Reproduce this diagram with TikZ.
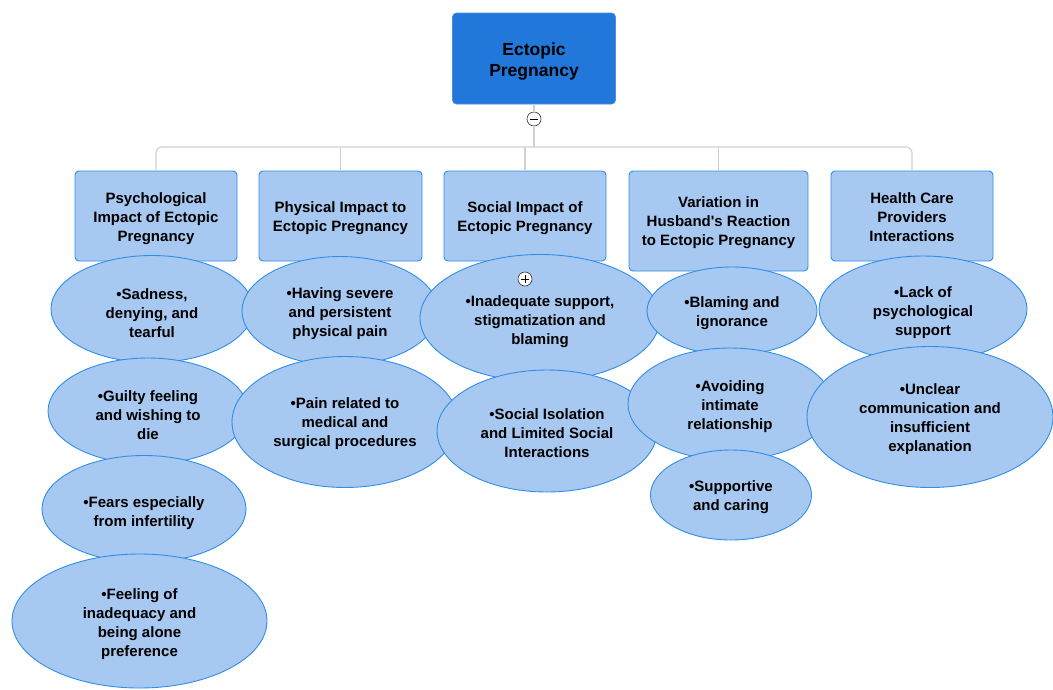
\documentclass[tikz,border=0pt]{standalone}
\usepackage{fontspec}
\setmainfont{Liberation Sans}
\newfontfamily\plainsans{Liberation Sans}
\usetikzlibrary{shapes.geometric}
\definecolor{rootblue}{RGB}{33,120,218}
\definecolor{rootedge}{RGB}{70,145,225}
\definecolor{lightblue}{RGB}{167,200,240}
\definecolor{edgeblue}{RGB}{48,142,232}
\definecolor{linegrey}{RGB}{208,208,208}
\tikzset{
  rootbox/.style={rectangle, rounded corners=4pt, fill=rootblue, draw=rootedge, line width=0.8pt, inner sep=0pt},
  topicbox/.style={rectangle, rounded corners=4pt, fill=lightblue, draw=edgeblue, line width=0.9pt, inner sep=0pt},
  idea/.style={ellipse, fill=lightblue, draw=edgeblue, line width=0.9pt, inner sep=0pt},
  roottext/.style={align=center, font=\fontsize{17.5}{21}\selectfont\bfseries, inner sep=0pt},
  words/.style={align=center, font=\fontsize{15}{19}\selectfont\bfseries, inner sep=0pt},
  toggle/.style={circle, fill=white, draw=black!80, line width=0.6pt, minimum size=14pt, inner sep=0pt},
  link/.style={draw=linegrey, line width=1.1pt}
}
\begin{document}
\begin{tikzpicture}[x=1pt,y=-1pt]
\useasboundingbox (0,0) rectangle (1053,689);
% root
\node[rootbox, minimum width=163pt, minimum height=91pt] (root) at (534,58.5) {};
\node[roottext] (roott) at ([yshift=-3pt]root.center) {Ectopic\\Pregnancy};
\node[toggle] (minus) at (534,119) {};
\draw[line width=0.8pt] ([xshift=-4pt]minus.center) -- ([xshift=4pt]minus.center);
\coordinate (hub) at (534,147);
% topic boxes
\node[topicbox, minimum width=162pt, minimum height=90pt] (b1) at (156,216) {};
\node[words] (b1t) at ([yshift=-3pt]b1.center) {Psychological\\Impact of Ectopic\\Pregnancy};
\node[topicbox, minimum width=163pt, minimum height=90pt] (b2) at (340.5,216) {};
\node[words] (b2t) at ([yshift=-2pt]b2.center) {Physical Impact to\\Ectopic Pregnancy};
\node[topicbox, minimum width=162pt, minimum height=90pt] (b3) at (525,216) {};
\node[words] (b3t) at ([yshift=-2pt]b3.center) {Social Impact of\\Ectopic Pregnancy};
\node[topicbox, minimum width=179pt, minimum height=100pt] (b4) at (718.5,221) {};
\node[words] (b4t) at ([yshift=-2pt]b4.center) {Variation in\\{\plainsans Husband's} Reaction\\to Ectopic Pregnancy};
\node[topicbox, minimum width=162pt, minimum height=90pt] (b5) at (912,216) {};
\node[words] (b5t) at ([yshift=-1pt]b5.center) {Health Care\\Providers\\Interactions};
% connectors
\draw[link] (root.south) -- (minus.north);
\draw[link] (minus.south) -- (hub);
\draw[link, rounded corners=6pt] (b1.north) |- (hub) -| (b5.north);
\draw[link] (b2.north) -- (b2.north |- hub);
\draw[link] (b3.north) -- (b3.north |- hub);
\draw[link] (b4.north) -- (b4.north |- hub);
% row 1 ideas
\node[idea, minimum width=202pt, minimum height=107pt] (s1) at (152,309) {};
\node[words] (s1t) at ([yshift=-4pt]s1.center) {•Sadness,\\denying, and\\tearful};
\node[idea, minimum width=196pt, minimum height=109pt] (p1) at (340,311) {};
\node[words] (p1t) at ([yshift=-3pt]p1.center) {•Having severe\\and persistent\\physical pain};
\node[idea, minimum width=240pt, minimum height=127pt] (o1) at (540,318) {};
\node[words] (o1t) at ([yshift=-4pt]o1.center) {•Inadequate support,\\stigmatization and\\blaming};
\node[toggle] (plus) at (525,279) {};
\draw[line width=0.8pt] ([xshift=-4pt]plus.center) -- ([xshift=4pt]plus.center);
\draw[line width=0.8pt] ([yshift=-4pt]plus.center) -- ([yshift=4pt]plus.center);
\node[idea, minimum width=170pt, minimum height=88pt] (h1) at (732,311) {};
\node[words] (h1t) at ([yshift=-2pt]h1.center) {•Blaming and\\ignorance};
\node[idea, minimum width=208pt, minimum height=106pt] (c1) at (923,309) {};
\node[words] (c1t) at ([yshift=-4pt]c1.center) {•Lack of\\psychological\\support};
% row 2 ideas
\node[idea, minimum width=200pt, minimum height=106pt] (s2) at (148,411) {};
\node[words] (s2t) at ([yshift=-4pt]s2.center) {•Guilty feeling\\and wishing to\\die};
\node[idea, minimum width=226pt, minimum height=131pt] (p2) at (345,422) {};
\node[words] (p2t) at ([yshift=-2pt]p2.center) {•Pain related to\\medical and\\surgical procedures};
\node[idea, minimum width=220pt, minimum height=122pt] (o2) at (547,431) {};
\node[words] (o2t) at ([yshift=-2pt]o2.center) {•Social Isolation\\and Limited Social\\Interactions};
\node[idea, minimum width=204pt, minimum height=112pt] (h2) at (730,404) {};
\node[words] (h2t) at ([yshift=-3pt]h2.center) {•Avoiding\\intimate\\relationship};
\node[idea, minimum width=246pt, minimum height=141pt] (c2) at (930,417) {};
\node[words] (c2t) at ([yshift=-2pt]c2.center) {•Unclear\\communication and\\insufficient\\explanation};
% row 3 ideas
\node[idea, minimum width=204pt, minimum height=107pt] (s3) at (144,509) {};
\node[words] (s3t) at ([yshift=-4pt]s3.center) {•Fears especially\\from infertility};
\node[idea, minimum width=161pt, minimum height=90pt] (h3) at (731,495) {};
\node[words] (h3t) at ([yshift=-2pt]h3.center) {•Supportive\\and caring};
% row 4 ideas
\node[idea, minimum width=255pt, minimum height=134pt] (s4) at (139.5,621) {};
\node[words] (s4t) at ([yshift=-3pt]s4.center) {•Feeling of\\inadequacy and\\being alone\\preference};
\end{tikzpicture}
\end{document}
